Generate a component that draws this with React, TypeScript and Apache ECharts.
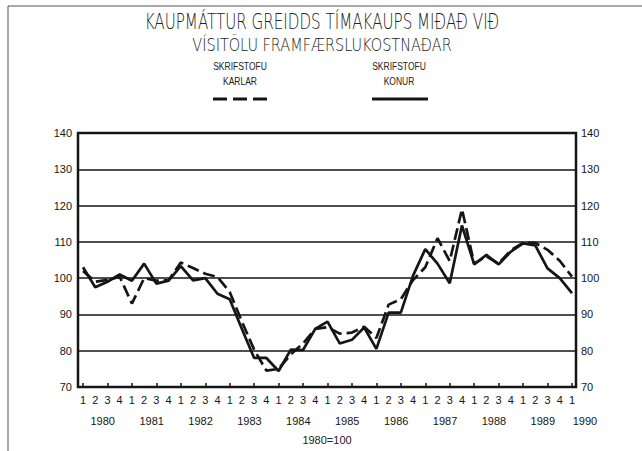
import React, { useEffect, useRef } from "react";
import * as echarts from "echarts";

const quarterLabels = [
  "1", "2", "3", "4", "1", "2", "3", "4", "1", "2", "3", "4", "1", "2", "3", "4",
  "1", "2", "3", "4", "1", "2", "3", "4", "1", "2", "3", "4", "1", "2", "3", "4",
  "1", "2", "3", "4", "1", "2", "3", "4", "1",
];
const yearLabels = ["1980", "1981", "1982", "1983", "1984", "1985", "1986", "1987", "1988", "1989", "1990"];

// Skrifstofu karlar (dashed)
const karlar = [
  102, 99, 99.5, 100.4, 93, 100, 99.3, 99.4,
  104.3, 102.8, 101.2, 100.3, 96.2, 88, 80.3, 74.5,
  75, 79, 82, 86, 86.5, 84.7, 85, 86.6,
  83.5, 92.7, 94.2, 99.5, 103, 111, 104.7, 119,
  104, 106, 104, 107.7, 109.7, 109.7, 107.8, 104.8,
  100.4,
];
// Skrifstofu konur (solid)
const konur = [
  103, 97.5, 99, 101, 99.3, 104, 98.5, 99.3,
  103.3, 99.4, 100, 95.7, 94.2, 86, 78, 78,
  74.4, 80.3, 80.2, 86, 88, 82, 83, 86.4,
  80.5, 90.5, 90.5, 100.7, 108, 104, 98.6, 114.5,
  103.8, 106.4, 103.8, 107.3, 109.6, 109, 102.7, 100,
  95.9,
];
const yTicks = { min: 70, max: 140, interval: 10 };

const FONT = "'Liberation Sans', Arial, sans-serif";
const TFONT = "'DejaVu Sans', 'Liberation Sans', sans-serif";
const INK = "#151515";

export default function App() {
  const ref = useRef<HTMLDivElement>(null);
  useEffect(() => {
    if (!ref.current) return;
    const chart = echarts.init(ref.current, undefined, { renderer: "svg" });
    const option: any = {
      animation: false,
      backgroundColor: "#fff",
      grid: [
        { left: 78, right: 66, top: 133, bottom: 64 },
        { left: 83, right: 70, top: 133, bottom: 64 },
      ],
      xAxis: [
        {
          type: "value",
          gridIndex: 0,
          min: -0.41,
          max: 40.33,
          axisLine: { show: false },
          axisTick: { show: false },
          axisLabel: { show: false },
          splitLine: { show: false },
        },
        {
          type: "category",
          gridIndex: 1,
          boundaryGap: false,
          data: quarterLabels,
          axisLine: { show: false },
          axisTick: {
            show: true,
            inside: true,
            length: 4,
            interval: 1,
            lineStyle: { color: INK, width: 1.5 },
          },
          axisLabel: {
            interval: 0,
            margin: 7,
            color: INK,
            fontFamily: FONT,
            fontSize: 11,
            formatter: (val: string, idx: number) => {
              if (idx % 4 === 1) {
                return `{q|${val}}\n{y|${yearLabels[(idx - 1) / 4]}}`;
              }
              if (idx === quarterLabels.length - 1) {
                return `{q|${val}}\n{e|${yearLabels[yearLabels.length - 1]}}`;
              }
              return `{q|${val}}`;
            },
            rich: {
              q: { fontSize: 11, fontFamily: FONT, color: INK, lineHeight: 12 },
              y: { fontSize: 11, fontFamily: FONT, color: INK, lineHeight: 30, padding: [0, 0, 0, 15] },
              e: { fontSize: 11, fontFamily: FONT, color: INK, lineHeight: 30, padding: [0, 0, 0, 26] },
            },
          },
          splitLine: { show: false },
        },
      ],
      yAxis: [
        {
          type: "value",
          gridIndex: 0,
          position: "left",
          ...yTicks,
          axisLine: { show: false },
          axisTick: { show: false },
          axisLabel: { margin: 6, color: INK, fontFamily: FONT, fontSize: 11 },
          splitLine: { show: true, lineStyle: { color: INK, width: 1.6 } },
        },
        {
          type: "value",
          gridIndex: 0,
          position: "right",
          ...yTicks,
          axisLine: { show: false },
          axisTick: { show: false },
          axisLabel: { margin: 5, color: INK, fontFamily: FONT, fontSize: 11 },
          splitLine: { show: false },
        },
        { type: "value", gridIndex: 1, min: 0, max: 1, show: false },
      ],
      series: [
        {
          name: "SKRIFSTOFU KONUR",
          type: "line",
          xAxisIndex: 0,
          yAxisIndex: 0,
          data: konur.map((v, i) => [i, v]),
          symbol: "none",
          lineStyle: { color: INK, width: 2.7 },
        },
        {
          name: "SKRIFSTOFU KARLAR",
          type: "line",
          xAxisIndex: 0,
          yAxisIndex: 0,
          data: karlar.map((v, i) => [i, v]),
          symbol: "none",
          lineStyle: { color: INK, width: 2.7, type: [12, 5] },
        },
      ],
      graphic: [
        { type: "line", shape: { x1: 8, y1: 6, x2: 642, y2: 6 }, style: { stroke: "#555", lineWidth: 1 } },
        { type: "line", shape: { x1: 8, y1: 6, x2: 8, y2: 451 }, style: { stroke: "#555", lineWidth: 1 } },
        {
          type: "rect",
          shape: { x: 78, y: 133, width: 498, height: 254 },
          style: { fill: "none", stroke: INK, lineWidth: 2.5 },
          z: 10,
        },
        {
          type: "text",
          x: 322,
          y: 22,
          scaleX: 0.72,
          style: {
            text: "KAUPMÁTTUR GREIDDS TÍMAKAUPS MIÐAÐ VIÐ",
            font: `200 21px ${TFONT}`,
            fill: "#222",
            align: "center",
            verticalAlign: "middle",
          },
        },
        {
          type: "text",
          x: 322,
          y: 45,
          scaleX: 0.85,
          style: {
            text: "VÍSITÖLU FRAMFÆRSLUKOSTNAÐAR",
            font: `200 17px ${TFONT}`,
            fill: "#222",
            align: "center",
            verticalAlign: "middle",
          },
        },
        {
          type: "text",
          x: 240,
          y: 67,
          scaleX: 0.85,
          style: { text: "SKRIFSTOFU", font: `10px ${FONT}`, fill: "#222", align: "center", verticalAlign: "middle" },
        },
        {
          type: "text",
          x: 240,
          y: 82,
          scaleX: 0.85,
          style: { text: "KARLAR", font: `10px ${FONT}`, fill: "#222", align: "center", verticalAlign: "middle" },
        },
        {
          type: "line",
          shape: { x1: 213, y1: 99, x2: 272, y2: 99 },
          style: { stroke: INK, lineWidth: 3, lineDash: [14, 6] },
        },
        {
          type: "text",
          x: 399,
          y: 67,
          scaleX: 0.85,
          style: { text: "SKRIFSTOFU", font: `10px ${FONT}`, fill: "#222", align: "center", verticalAlign: "middle" },
        },
        {
          type: "text",
          x: 399,
          y: 82,
          scaleX: 0.85,
          style: { text: "KONUR", font: `10px ${FONT}`, fill: "#222", align: "center", verticalAlign: "middle" },
        },
        {
          type: "line",
          shape: { x1: 372, y1: 99, x2: 428, y2: 99 },
          style: { stroke: INK, lineWidth: 3 },
        },
        {
          type: "text",
          x: 327,
          y: 440,
          style: { text: "1980=100", font: `11px ${FONT}`, fill: "#222", align: "center", verticalAlign: "middle" },
        },
      ],
    };
    chart.setOption(option);
    return () => chart.dispose();
  }, []);
  return (
    <div
      ref={ref}
      style={{ position: "fixed", left: 0, top: 0, width: 642, height: 451, background: "#fff" }}
    />
  );
}
